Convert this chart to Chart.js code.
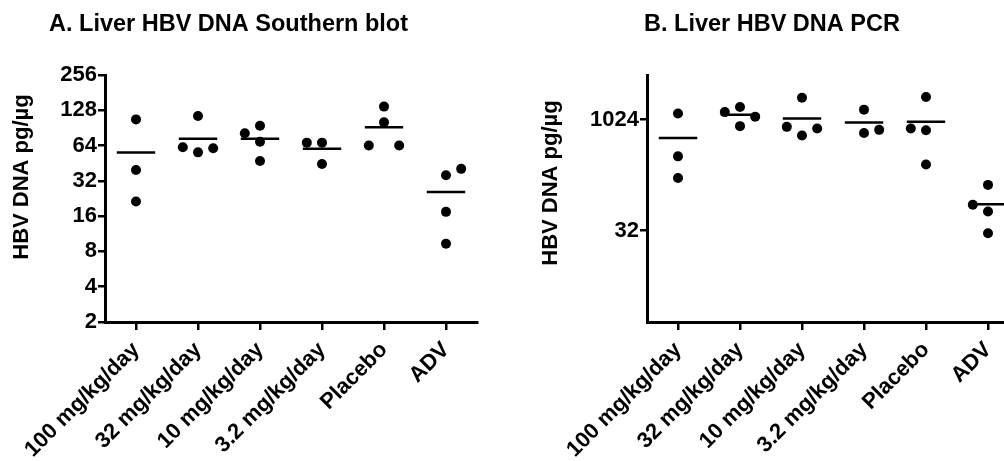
<!DOCTYPE html>
<html>
<head>
<meta charset="utf-8">
<script src="https://cdn.jsdelivr.net/npm/chart.js@4.4.0/dist/chart.umd.min.js"></script>
<style>
  html, body { margin: 0; padding: 0; background: #fff; overflow: hidden; }
  body { width: 1004px; height: 461px; position: relative; }
  .panel { position: absolute; top: 0; }
  #panel-a { left: 0; }
  #panel-b { left: 530px; }
</style>
</head>
<body>
<div class="panel" id="panel-a"><canvas id="chart-a" width="500" height="461"></canvas></div>
<div class="panel" id="panel-b"><canvas id="chart-b" width="500" height="461"></canvas></div>
<script>
const groups = ['100 mg/kg/day', '32 mg/kg/day', '10 mg/kg/day', '3.2 mg/kg/day', 'Placebo', 'ADV'];

// A. Southern blot, HBV DNA pg/µg per animal (one array per group)
const southernBlot = [
  [107, 39.6, 21.3],
  [114.5, 61.9, 56, 60.7],
  [94.6, 81.5, 69, 47.2],
  [67.8, 67.8, 44.6],
  [137.6, 101, 64, 64],
  [40.5, 35.7, 17.4, 9.3]
];
const southernTicks = [2, 4, 8, 16, 32, 64, 128, 256];

// B. PCR, HBV DNA pg/µg per animal
const pcr = [
  [1235, 324, 165],
  [1507, 1287, 1113, 831],
  [2020, 813, 771, 621],
  [1390, 670, 740],
  [2058, 771, 733, 251],
  [133, 71.6, 58, 29.4]
];
const pcrTicks = [32, 1024];

// dot spreading (column slot per point, -1 left / 0 centre / 1 right)
const southernSlots = [[0, 0, 0], [0, -1, 0, 1], [0, -1, 0, 0], [-1, 0, 0], [0, 0, -1, 1], [1, 0, 0, 0]];
const pcrSlots = [[0, 0, 0], [0, -1, 1, 0], [0, -1, 1, 0], [0, 0, 1], [0, -1, 0, 0], [0, -1, 0, 0]];

const FONT = "'Liberation Sans', Arial, Helvetica, sans-serif";
Chart.defaults.font.family = FONT;
Chart.defaults.color = '#000';

const mean = arr => arr.reduce((s, v) => s + v, 0) / arr.length;

const panelText = {
  id: 'panelText',
  afterDraw(chart, args, opts) {
    const { ctx } = chart;
    ctx.save();
    ctx.fillStyle = '#000';
    ctx.font = `bold 23.5px ${FONT}`;
    ctx.textAlign = 'left';
    ctx.textBaseline = 'middle';
    ctx.fillText(opts.title, opts.titleX, opts.titleY);
    ctx.translate(opts.axisX, opts.axisY);
    ctx.rotate(-Math.PI / 2);
    ctx.font = `bold 22px ${FONT}`;
    ctx.textAlign = 'center';
    ctx.fillText(opts.axisTitle, 0, 0);
    ctx.restore();
  }
};

function renderPanel(id, values, slots, yTicks, yMin, yMax, text, box) {
  const step = 0.245;
  const dots = [];
  values.forEach((grp, i) => grp.forEach((v, j) => dots.push({ x: i + slots[i][j] * step, y: v })));

  const meanSets = values.map((grp, i) => ({
    data: [{ x: i - 0.31, y: mean(grp) }, { x: i + 0.31, y: mean(grp) }],
    showLine: true,
    borderColor: '#000',
    borderWidth: 2.5,
    pointRadius: 0
  }));

  return new Chart(document.getElementById(id), {
    type: 'scatter',
    data: {
      datasets: [{
        data: dots,
        pointRadius: 5,
        pointBackgroundColor: '#000',
        pointBorderWidth: 0
      }, ...meanSets]
    },
    options: {
      responsive: false,
      animation: false,
      layout: { padding: { top: 75, right: box.right, bottom: 0, left: 0 } },
      plugins: {
        legend: { display: false },
        tooltip: { enabled: false },
        panelText: text
      },
      scales: {
        x: {
          type: 'linear',
          min: -0.5,
          max: groups.length - 0.5,
          afterBuildTicks: s => { s.ticks = groups.map((_, i) => ({ value: i })); },
          afterFit: s => { s.height = 139; s.paddingLeft = 0; s.paddingRight = 0; },
          grid: { drawOnChartArea: false, color: '#000', lineWidth: 2.5, tickLength: 8 },
          border: { color: '#000', width: 3 },
          ticks: {
            autoSkip: false,
            minRotation: 45,
            maxRotation: 45,
            padding: 7,
            font: { size: 22, weight: 'bold' },
            callback: v => groups[Math.round(v)]
          }
        },
        y: {
          type: 'logarithmic',
          min: yMin,
          max: yMax,
          afterBuildTicks: s => { s.ticks = yTicks.map(v => ({ value: v })); },
          afterFit: s => { s.width = box.yWidth; },
          grid: { drawOnChartArea: false, color: '#000', lineWidth: 2.5, tickLength: 7 },
          border: { color: '#000', width: 3 },
          ticks: {
            padding: 1,
            font: { size: 22, weight: 'bold' },
            callback: v => String(v)
          }
        }
      }
    },
    plugins: [panelText]
  });
}

renderPanel('chart-a', southernBlot, southernSlots, southernTicks, 2, 256,
  { title: 'A. Liver HBV DNA Southern blot', titleX: 49, titleY: 25, axisTitle: 'HBV DNA pg/µg', axisX: 22, axisY: 177 },
  { yWidth: 105, right: 23 });

renderPanel('chart-b', pcr, pcrSlots, pcrTicks, 1.85, 4096,
  { title: 'B. Liver HBV DNA PCR', titleX: 114, titleY: 25, axisTitle: 'HBV DNA pg/µg', axisX: 21, axisY: 183 },
  { yWidth: 117, right: 11 });
</script>
</body>
</html>
